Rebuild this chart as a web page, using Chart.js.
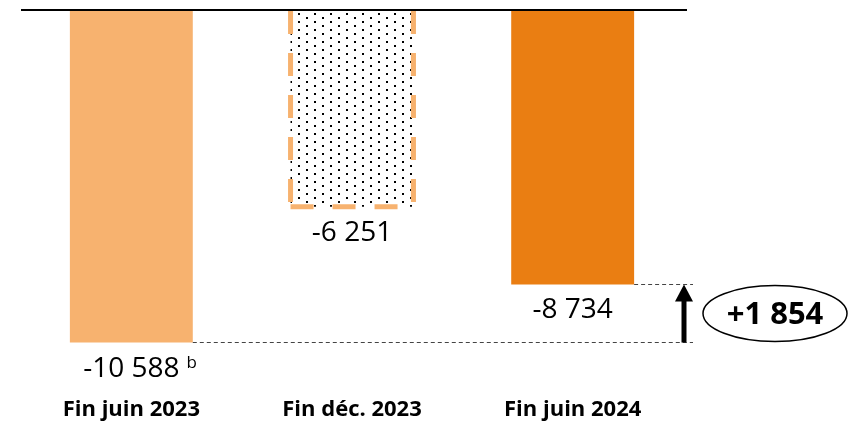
<!DOCTYPE html>
<html lang="fr">
<head>
<meta charset="utf-8">
<script src="https://cdn.jsdelivr.net/npm/chart.js@4.4.0/dist/chart.umd.min.js"></script>
<style>
  html, body { margin: 0; padding: 0; background: #fff; }
  #wrap { width: 848px; height: 421px; }
</style>
</head>
<body>
<div id="wrap"><canvas id="myChart"></canvas></div>
<script>
// Données
const categories = ['Fin juin 2023', 'Fin déc. 2023', 'Fin juin 2024'];
const values = [-10588, -6251, -8734];
const valueLabels = ['-10 588', '-6 251', '-8 734'];
const noteLabel = 'b';
const variationLabel = '+1 854';
const yMin = -12390;
const yMax = 0;

const orangeClair = '#F7B26F';
const orangeFonce = '#EA7E12';

// motif pointillé pour la barre intermédiaire
function motifPoints() {
    const c = document.createElement('canvas');
    c.width = 16;
    c.height = 8;
    const g = c.getContext('2d');
    g.fillStyle = '#fff';
    g.fillRect(0, 0, 16, 8);
    g.fillStyle = '#000';
    g.fillRect(2, 1, 2, 2);
    g.fillRect(10, 5, 2, 2);
    return g.createPattern(c, 'repeat');
}

const annotations = {
    id: 'annotations',
    afterDatasetsDraw(chart) {
        const { ctx, chartArea, scales: { y } } = chart;
        const bars = chart.getDatasetMeta(0).data;
        const zero = y.getPixelForValue(0);
        ctx.save();

        // bordure en tirets de la barre "Fin déc. 2023"
        const b = bars[1];
        const l = b.x - b.width / 2;
        const r = b.x + b.width / 2;
        ctx.strokeStyle = orangeClair;
        ctx.lineWidth = 5;
        ctx.setLineDash([23, 19]);
        ctx.beginPath();
        ctx.moveTo(l, b.base); ctx.lineTo(l, b.y);
        ctx.moveTo(r, b.base); ctx.lineTo(r, b.y);
        ctx.stroke();
        ctx.beginPath();
        ctx.moveTo(l, b.y); ctx.lineTo(r, b.y);
        ctx.stroke();

        // ligne du zéro
        ctx.setLineDash([]);
        ctx.strokeStyle = '#000';
        ctx.lineWidth = 2;
        ctx.beginPath();
        ctx.moveTo(chartArea.left, zero - 1);
        ctx.lineTo(chartArea.right + 4, zero - 1);
        ctx.stroke();

        // étiquettes de valeurs
        ctx.fillStyle = '#000';
        ctx.font = '28px "Open Sans"';
        ctx.textAlign = 'center';
        ctx.textBaseline = 'alphabetic';
        bars.forEach((bar, i) => {
            ctx.fillText(valueLabels[i], bar.x, bar.y + 34);
        });
        const w0 = ctx.measureText(valueLabels[0]).width;
        ctx.font = '17px "Open Sans"';
        ctx.textAlign = 'left';
        ctx.fillText(noteLabel, bars[0].x + w0 / 2 + 7, bars[0].y + 25);

        // lignes pointillées de référence
        const arrowX = chartArea.right + 1;
        ctx.strokeStyle = '#444';
        ctx.lineWidth = 1;
        ctx.setLineDash([4, 3]);
        ctx.beginPath();
        ctx.moveTo(bars[0].x + bars[0].width / 2, Math.round(bars[0].y) - 0.5);
        ctx.lineTo(arrowX + 9, Math.round(bars[0].y) - 0.5);
        ctx.moveTo(bars[2].x + bars[2].width / 2, Math.round(bars[2].y) + 0.5);
        ctx.lineTo(arrowX + 9, Math.round(bars[2].y) + 0.5);
        ctx.stroke();

        // flèche
        ctx.setLineDash([]);
        ctx.strokeStyle = '#000';
        ctx.lineWidth = 5;
        ctx.beginPath();
        ctx.moveTo(arrowX, bars[0].y);
        ctx.lineTo(arrowX, bars[2].y + 14);
        ctx.stroke();
        ctx.beginPath();
        ctx.moveTo(arrowX, bars[2].y);
        ctx.lineTo(arrowX + 9, bars[2].y + 17);
        ctx.lineTo(arrowX - 9, bars[2].y + 17);
        ctx.closePath();
        ctx.fill();

        // ellipse avec la variation
        const cx = arrowX + 91;
        const cy = (bars[0].y + bars[2].y) / 2;
        ctx.lineWidth = 1.5;
        ctx.beginPath();
        ctx.ellipse(cx, cy, 72, 28, 0, 0, Math.PI * 2);
        ctx.stroke();
        ctx.font = 'bold 31px "Open Sans"';
        ctx.textAlign = 'center';
        ctx.fillText(variationLabel, cx, cy + 11);

        ctx.restore();
    }
};

function dessiner() {
    const ctx = document.getElementById('myChart').getContext('2d');
    new Chart(ctx, {
        type: 'bar',
        data: {
            labels: categories,
            datasets: [{
                data: values,
                backgroundColor: [orangeClair, motifPoints(), orangeFonce],
                borderWidth: 0,
                barPercentage: 0.557,
                categoryPercentage: 1,
            }],
        },
        options: {
            responsive: true,
            maintainAspectRatio: false,
            animation: false,
            layout: {
                padding: { left: 21, right: 165, top: 11, bottom: 0 },
            },
            plugins: {
                legend: { display: false },
                tooltip: { enabled: false },
            },
            scales: {
                x: {
                    grid: { display: false, drawTicks: false },
                    border: { display: false },
                    ticks: {
                        color: '#000',
                        padding: 3,
                        maxRotation: 0,
                        autoSkip: false,
                        font: { family: 'Open Sans', size: 22, weight: 'bold', lineHeight: 0.73 },
                    },
                },
                y: {
                    display: false,
                    min: yMin,
                    max: yMax,
                },
            },
        },
        plugins: [annotations],
    });
}

Promise.all([
    document.fonts.load('28px "Open Sans"'),
    document.fonts.load('bold 22px "Open Sans"'),
]).then(dessiner, dessiner);
</script>
</body>
</html>
